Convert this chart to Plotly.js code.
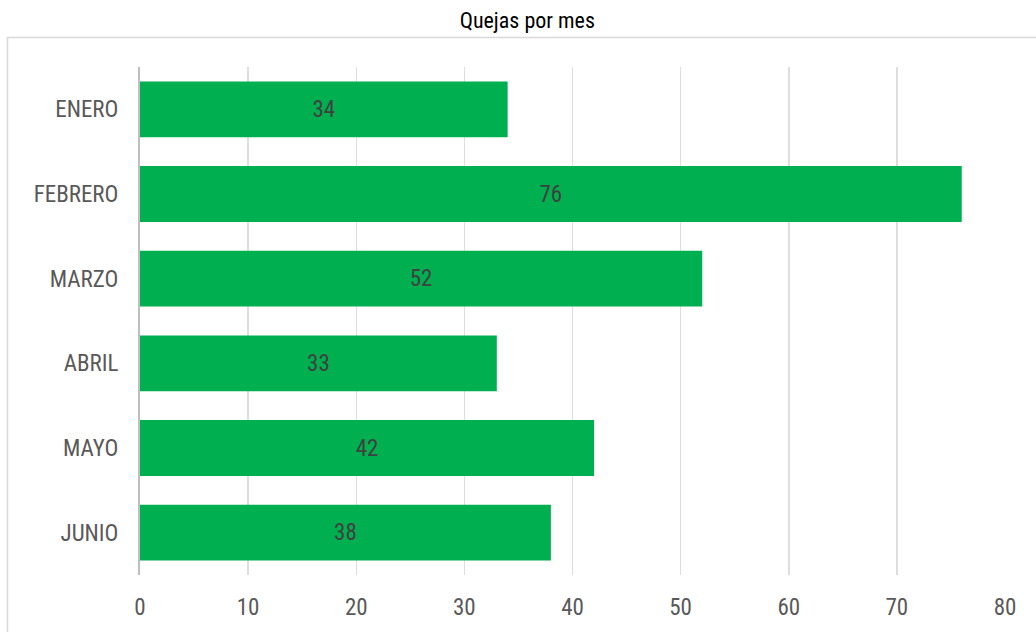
<!DOCTYPE html>
<html>
<head>
<meta charset="utf-8">
<script src="https://cdn.plot.ly/plotly-3.0.1.min.js"></script>
<style>
  html, body { margin: 0; padding: 0; background: #ffffff; }
  #chart { width: 1036px; height: 632px; }
</style>
</head>
<body>
<div id="chart"></div>
<script>
const categories = ["ENERO", "FEBRERO", "MARZO", "ABRIL", "MAYO", "JUNIO"];
const quejas = [34, 76, 52, 33, 42, 38];
const xTicks = [0, 10, 20, 30, 40, 50, 60, 70, 80];

const FONT = '"Roboto Condensed", "Liberation Sans Narrow", "Arial Narrow", "Liberation Sans", Arial, sans-serif';

const trace = {
  type: "bar",
  orientation: "h",
  y: categories,
  x: quejas,
  marker: { color: "#00B050" },
  text: quejas.map(String),
  textposition: "inside",
  insidetextanchor: "middle",
  textfont: { family: FONT, size: 23, color: "#404040", weight: 400 },
  hoverinfo: "x+y",
  cliponaxis: false
};

const layout = {
  width: 1036,
  height: 632,
  margin: { l: 140, r: 31, t: 67, b: 57 },
  paper_bgcolor: "#ffffff",
  plot_bgcolor: "#ffffff",
  bargap: 0.34,
  showlegend: false,
  title: {
    text: "Quejas por mes",
    font: { family: FONT, size: 22, color: "#000000", weight: 400 },
    x: 0.509, xanchor: "center",
    y: 0.968, yanchor: "middle"
  },
  xaxis: {
    range: [0, 80],
    tickvals: xTicks,
    ticktext: xTicks.map(String),
    showgrid: true,
    gridcolor: "#DEDEDE",
    gridwidth: 1.5,
    zeroline: false,
    showline: false,
    ticks: "",
    ticklabelstandoff: 16,
    tickfont: { family: FONT, size: 23, color: "#595959", weight: 400 },
    fixedrange: true
  },
  yaxis: {
    autorange: "reversed",
    type: "category",
    showgrid: false,
    zeroline: false,
    showline: true,
    linecolor: "#BFBFBF",
    linewidth: 2,
    ticks: "",
    ticklabelstandoff: 15,
    tickfont: { family: FONT, size: 23, color: "#595959", weight: 400 },
    fixedrange: true
  },
  shapes: [{
    type: "rect",
    xref: "paper", yref: "paper",
    x0: (7.5 - 140) / 865, x1: (1060 - 140) / 865,
    y0: (575 - 660) / 508, y1: (575 - 37.5) / 508,
    line: { color: "#D9D9D9", width: 1.5 },
    fillcolor: "rgba(0,0,0,0)",
    layer: "below"
  }]
};

Plotly.newPlot("chart", [trace], layout, { displayModeBar: false, staticPlot: true });
</script>
</body>
</html>
